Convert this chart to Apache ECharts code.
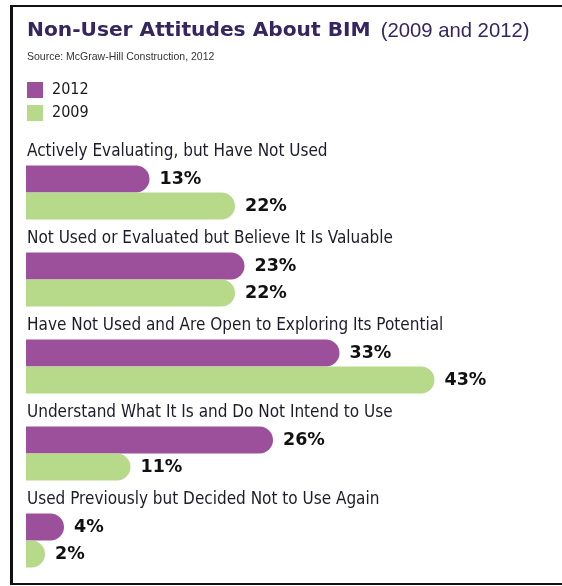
<!DOCTYPE html>
<html>
<head>
<meta charset="utf-8">
<script src="https://cdn.jsdelivr.net/npm/echarts@6/dist/echarts.min.js"></script>
<style>
html,body{margin:0;padding:0;background:#fff;overflow:hidden;}
#chart{position:absolute;left:0;top:0;width:562px;height:586px;}
#frame{position:absolute;left:10px;top:5px;width:620px;height:580px;box-sizing:border-box;border-top:2px solid #111;border-bottom:2px solid #111;border-left:3px solid #111;border-right:none;pointer-events:none;}
</style>
</head>
<body>
<div id="chart"></div>
<div id="frame"></div>
<script>
const categories = [
  'Actively Evaluating, but Have Not Used',
  'Not Used or Evaluated but Believe It Is Valuable',
  'Have Not Used and Are Open to Exploring Its Potential',
  'Understand What It Is and Do Not Intend to Use',
  'Used Previously but Decided Not to Use Again'
];
const values2012 = [13, 23, 33, 26, 4];
const values2009 = [22, 22, 43, 11, 2];
const seriesNames = ['2012', '2009'];

const narrow = "'Liberation Sans Narrow', 'DejaVu Sans Condensed', 'Liberation Sans', sans-serif";
const chart = echarts.init(document.getElementById('chart'), null, {renderer: 'canvas'});
chart.setOption({
  animation: false,
  backgroundColor: '#fff',
  title: {
    left: 27, top: 21, padding: 0,
    text: '{b|Non-User Attitudes About BIM} {n|(2009 and 2012)}',
    textStyle: {
      rich: {
        b: {fontFamily: "'DejaVu Sans', sans-serif", fontWeight: 'bold', fontSize: 20.2, color: '#36265f'},
        n: {fontFamily: "'Liberation Sans', Arial, sans-serif", fontWeight: 'normal', fontSize: 20.3, color: '#36265f', padding: [0, 0, 0, 5]}
      }
    },
    subtext: 'Source: McGraw-Hill Construction, 2012',
    itemGap: 11,
    subtextStyle: {fontFamily: "'Liberation Sans', Arial, sans-serif", fontSize: 10.5, color: '#333'}
  },
  legend: {
    data: seriesNames,
    orient: 'vertical',
    left: 27, top: 82, padding: 0,
    itemWidth: 16, itemHeight: 16, itemGap: 7,
    icon: 'rect',
    textStyle: {fontFamily: narrow, fontSize: 16, color: '#1a1a1a', padding: [2, 0, 0, 4]}
  },
  grid: {left: 26, right: 61, top: 135.5, bottom: 15.5, containLabel: false},
  xAxis: {type: 'value', min: 0, max: 50, show: false},
  yAxis: {type: 'category', data: categories, inverse: true, show: false},
  series: [
    {
      name: 'label', type: 'bar', data: categories.map(() => 0),
      barWidth: 27, barGap: '0%', silent: true,
      itemStyle: {color: 'rgba(0,0,0,0)'},
      label: {
        show: true, position: 'right', distance: 1,
        formatter: p => categories[p.dataIndex],
        fontFamily: narrow, fontSize: 17, color: '#1c1c2a'
      }
    },
    {
      name: seriesNames[0], type: 'bar', data: values2012,
      barWidth: 27, barGap: '0%',
      itemStyle: {color: '#9c509c', borderRadius: [0, 13.5, 13.5, 0]},
      label: {show: true, position: 'right', distance: 10, formatter: '{c}%',
        fontFamily: "'DejaVu Sans', sans-serif", fontWeight: 'bold', fontSize: 17.5, color: '#111'}
    },
    {
      name: seriesNames[1], type: 'bar', data: values2009,
      barWidth: 27, barGap: '0%',
      itemStyle: {color: '#b6d98a', borderRadius: [0, 13.5, 13.5, 0]},
      label: {show: true, position: 'right', distance: 10, formatter: '{c}%',
        fontFamily: "'DejaVu Sans', sans-serif", fontWeight: 'bold', fontSize: 17.5, color: '#111'}
    }
  ]
});
</script>
</body>
</html>
